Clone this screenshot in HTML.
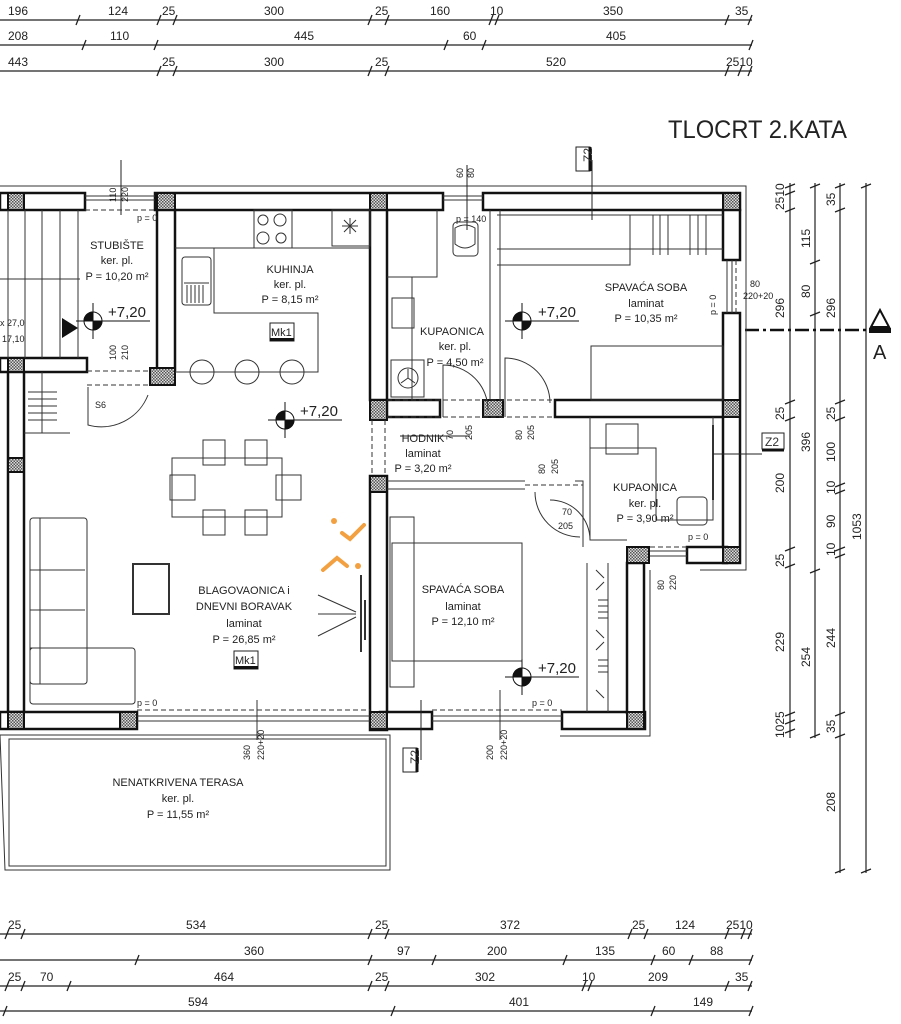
<!DOCTYPE html>
<html><head><meta charset="utf-8"><style>
html,body{margin:0;padding:0;background:#fff}
svg{display:block}
text{font-family:"Liberation Sans",sans-serif;fill:#222}
.d{font-size:12px;fill:#333}
.r{font-size:11px;text-anchor:middle}
</style></head><body>
<svg width="901" height="1024" viewBox="0 0 901 1024" xmlns="http://www.w3.org/2000/svg">
<defs>
<pattern id="h" width="3" height="3" patternUnits="userSpaceOnUse"><rect width="3" height="3" fill="#ddd"/><rect width="1.5" height="1.5" fill="#555"/><rect x="1.5" y="1.5" width="1.5" height="1.5" fill="#555"/></pattern>
</defs>
<g stroke="#222" stroke-width="1.2" fill="none">
<line x1="0" y1="20" x2="752" y2="20"/><line x1="0" y1="45" x2="752" y2="45"/><line x1="0" y1="71" x2="752" y2="71"/>
<line x1="0" y1="934" x2="752" y2="934"/><line x1="0" y1="960" x2="752" y2="960"/><line x1="0" y1="986" x2="752" y2="986"/><line x1="0" y1="1011" x2="752" y2="1011"/>
<line x1="790" y1="183" x2="790" y2="738"/><line x1="815" y1="183" x2="815" y2="738"/><line x1="840" y1="183" x2="840" y2="873"/><line x1="866" y1="183" x2="866" y2="873"/>
</g>
<g stroke="#222" stroke-width="1.3">
<path d="M76,25 l4,-10 M157,25 l4,-10 M173,25 l4,-10 M368,25 l4,-10 M385,25 l4,-10 M489,25 l4,-10 M495,25 l4,-10 M725,25 l4,-10 M748,25 l4,-10"/>
<path d="M82,50 l4,-10 M154,50 l4,-10 M444,50 l4,-10 M482,50 l4,-10 M749,50 l4,-10"/>
<path d="M157,76 l4,-10 M173,76 l4,-10 M368,76 l4,-10 M385,76 l4,-10 M725,76 l4,-10 M738,76 l4,-10 M748,76 l4,-10"/>
<path d="M5,939 l4,-10 M21,939 l4,-10 M368,939 l4,-10 M385,939 l4,-10 M628,939 l4,-10 M644,939 l4,-10 M725,939 l4,-10 M741,939 l4,-10 M748,939 l4,-10"/>
<path d="M135,965 l4,-10 M368,965 l4,-10 M432,965 l4,-10 M563,965 l4,-10 M651,965 l4,-10 M689,965 l4,-10 M749,965 l4,-10"/>
<path d="M5,991 l4,-10 M21,991 l4,-10 M67,991 l4,-10 M368,991 l4,-10 M385,991 l4,-10 M582,991 l4,-10 M588,991 l4,-10 M725,991 l4,-10 M748,991 l4,-10"/>
<path d="M3,1016 l4,-10 M391,1016 l4,-10 M651,1016 l4,-10 M749,1016 l4,-10"/>
<path d="M785,188 l10,-4 M785,195 l10,-4 M785,212 l10,-4 M785,404 l10,-4 M785,421 l10,-4 M785,551 l10,-4 M785,568 l10,-4 M785,716 l10,-4 M785,724 l10,-4 M785,733 l10,-4"/>
<path d="M810,188 l10,-4 M810,264 l10,-4 M810,316 l10,-4 M810,573 l10,-4 M810,738 l10,-4"/>
<path d="M835,188 l10,-4 M835,212 l10,-4 M835,404 l10,-4 M835,421 l10,-4 M835,487 l10,-4 M835,494 l10,-4 M835,551 l10,-4 M835,558 l10,-4 M835,716 l10,-4 M835,738 l10,-4 M835,873 l10,-4"/>
<path d="M861,188 l10,-4 M861,873 l10,-4"/>
</g>
<g class="d">
<text x="8" y="15">196</text><text x="108" y="15">124</text><text x="162" y="15">25</text><text x="264" y="15">300</text><text x="375" y="15">25</text><text x="430" y="15">160</text><text x="490" y="15">10</text><text x="603" y="15">350</text><text x="735" y="15">35</text>
<text x="8" y="40">208</text><text x="110" y="40">110</text><text x="294" y="40">445</text><text x="463" y="40">60</text><text x="606" y="40">405</text>
<text x="8" y="66">443</text><text x="162" y="66">25</text><text x="264" y="66">300</text><text x="375" y="66">25</text><text x="546" y="66">520</text><text x="726" y="66">2510</text>
<text x="8" y="929">25</text><text x="186" y="929">534</text><text x="375" y="929">25</text><text x="500" y="929">372</text><text x="632" y="929">25</text><text x="675" y="929">124</text><text x="726" y="929">2510</text>
<text x="244" y="955">360</text><text x="397" y="955">97</text><text x="487" y="955">200</text><text x="595" y="955">135</text><text x="662" y="955">60</text><text x="710" y="955">88</text>
<text x="8" y="981">25</text><text x="40" y="981">70</text><text x="214" y="981">464</text><text x="375" y="981">25</text><text x="475" y="981">302</text><text x="582" y="981">10</text><text x="648" y="981">209</text><text x="735" y="981">35</text>
<text x="188" y="1006">594</text><text x="509" y="1006">401</text><text x="693" y="1006">149</text>
</g>
<g class="d">
<text transform="translate(784,210) rotate(-90)">2510</text>
<text transform="translate(784,318) rotate(-90)">296</text>
<text transform="translate(784,420) rotate(-90)">25</text>
<text transform="translate(784,493) rotate(-90)">200</text>
<text transform="translate(784,567) rotate(-90)">25</text>
<text transform="translate(784,652) rotate(-90)">229</text>
<text transform="translate(784,738) rotate(-90)">1025</text>
<text transform="translate(810,248) rotate(-90)">115</text>
<text transform="translate(810,298) rotate(-90)">80</text>
<text transform="translate(810,452) rotate(-90)">396</text>
<text transform="translate(810,667) rotate(-90)">254</text>
<text transform="translate(835,206) rotate(-90)">35</text>
<text transform="translate(835,318) rotate(-90)">296</text>
<text transform="translate(835,420) rotate(-90)">25</text>
<text transform="translate(835,462) rotate(-90)">100</text>
<text transform="translate(835,494) rotate(-90)">10</text>
<text transform="translate(835,528) rotate(-90)">90</text>
<text transform="translate(835,556) rotate(-90)">10</text>
<text transform="translate(835,648) rotate(-90)">244</text>
<text transform="translate(835,733) rotate(-90)">35</text>
<text transform="translate(835,812) rotate(-90)">208</text>
<text transform="translate(861,540) rotate(-90)">1053</text>
</g>
<text x="668" y="138" style="font-size:25px" textLength="179" lengthAdjust="spacingAndGlyphs">TLOCRT 2.KATA</text>
<line x1="745" y1="330" x2="868" y2="330" stroke="#111" stroke-width="2.5" stroke-dasharray="14,4,3,4"/>
<path d="M871,327 L880,310 L889,327 Z" fill="none" stroke="#111" stroke-width="2"/>
<rect x="869" y="328" width="22" height="5" fill="#111"/>
<text x="873" y="359" style="font-size:20px">A</text>

<g fill="none" stroke="#333" stroke-width="1">
<path d="M0,186 H746 V570 H700"/>
<path d="M0,735 H390 V870 H5 Z"/><path d="M9,739 H386 V866 H9 Z"/>
<path d="M560,736 H650 V570"/>
</g>
<g fill="#fff" stroke="#111" stroke-width="2.5">
<rect x="0" y="193" width="85" height="17"/>
<rect x="155" y="193" width="288" height="17"/>
<rect x="483" y="193" width="257" height="17"/>
<rect x="723" y="210" width="17" height="50"/>
<rect x="723" y="313" width="17" height="250"/>
<rect x="157" y="210" width="18" height="160"/>
<rect x="370" y="210" width="17" height="190"/>
<rect x="0" y="358" width="87" height="14"/>
<rect x="8" y="372" width="16" height="340"/>
<rect x="0" y="712" width="137" height="17"/>
<rect x="370" y="476" width="17" height="254"/>
<rect x="380" y="712" width="52" height="17"/>
<rect x="562" y="712" width="83" height="17"/>
<rect x="627" y="563" width="17" height="150"/>
<rect x="687" y="547" width="40" height="16"/>
<rect x="555" y="400" width="168" height="17"/>
<rect x="387" y="400" width="53" height="17"/>
</g>
<g fill="url(#h)" stroke="#111" stroke-width="2">
<rect x="8" y="193" width="16" height="17"/><rect x="157" y="193" width="18" height="17"/><rect x="370" y="193" width="17" height="17"/><rect x="723" y="193" width="17" height="17"/>
<rect x="8" y="358" width="16" height="14"/><rect x="150" y="368" width="25" height="17"/><rect x="370" y="400" width="17" height="20"/><rect x="483" y="400" width="20" height="17"/><rect x="723" y="400" width="17" height="17"/>
<rect x="8" y="458" width="16" height="14"/><rect x="370" y="476" width="17" height="16"/><rect x="627" y="547" width="22" height="16"/><rect x="723" y="547" width="17" height="16"/>
<rect x="8" y="712" width="16" height="17"/><rect x="120" y="712" width="17" height="17"/><rect x="370" y="712" width="17" height="17"/><rect x="627" y="712" width="17" height="17"/>
</g>
<g fill="none" stroke="#333" stroke-width="1">
<path d="M85,196 H155 M85,200 H155"/><path d="M443,196 H483 M443,200 H483"/>
<path d="M727,260 V313 M732,260 V313"/>
<path d="M137,716 H370 M137,721 H370"/><path d="M432,716 H562 M432,721 H562"/>
<path d="M650,551 H687 M650,556 H687"/>
<path d="M490,210 V400 M500,210 V400"/>
<path d="M387,481 H525 M387,489 H525"/>
<path d="M575,481 H583 V547 M590,417 V540 H627"/>
<path d="M8,210 V358 M25,210 V358 M42,210 V358 M60,210 V358 M78,210 V358 M0,279 H80"/>
<path d="M28,392 H57 M28,399 H57 M28,406 H57 M28,413 H57 M28,420 H57 M24,433 H70 M42,372 V433"/>
<path d="M85,210 H155 M87,371 H150 M87,385 H150 M387,417 H555 M387,400 H555 M525,485 H583 M137,710 H370 M432,710 H562 M650,547 H687 M736,260 V313 M372,420 V476 M385,420 V476" stroke-dasharray="5,3"/>
<path d="M175,248 H370 M214,248 V313 H318 V372 H175"/>
<rect x="254" y="210" width="38" height="38"/><rect x="332" y="210" width="38" height="36"/>
<path d="M344,220 l12,12 M356,220 l-12,12 M350,218 v16 M342,226 h16"/>
<circle cx="263" cy="220" r="5"/><circle cx="280" cy="220" r="6"/><circle cx="263" cy="238" r="6"/><circle cx="281" cy="238" r="5"/>
<rect x="182" y="257" width="29" height="48" rx="3"/><path d="M184,283 H209 M187,285 v18 M191,285 v18 M195,285 v18 M199,285 v18 M203,285 v18"/>
<circle cx="202" cy="372" r="12"/><circle cx="247" cy="372" r="12"/><circle cx="292" cy="372" r="12"/>
<path d="M387,277 H437 V210 M412,277 V400"/><rect x="392" y="298" width="22" height="30"/><rect x="391" y="360" width="33" height="37"/>
<circle cx="408" cy="378" r="10"/><path d="M408,378 V369 M408,378 l-7,5 M408,378 l7,5"/>
<rect x="453" y="222" width="25" height="34" rx="4"/><path d="M455,228 q10,-6 20,0 v16 q-10,8 -20,0 Z"/>
<path d="M443,417 V365 a45,45 0 0,1 45,45"/><path d="M505,417 V358 a45,45 0 0,1 45,45"/>
<path d="M88,387 V425 a50,50 0 0,0 60,-30"/>
<path d="M535,492 a45,45 0 0,0 45,45"/><path d="M590,540 a40,40 0 0,0 -40,-40" />
<path d="M497,215 H630 V265 H497 M497,249 H630" /><path d="M630,215 H723 M630,249 H723"/>
<path d="M653,215 v40 M660,215 v40 M668,215 v40 M690,215 v40 M698,215 v40 M706,215 v40"/>
<rect x="591" y="346" width="132" height="54"/>
<rect x="606" y="424" width="32" height="30"/><path d="M590,448 H656 V520 H713 V417"/><path d="M713,425 V500" stroke-width="2"/>
<rect x="677" y="497" width="30" height="28" rx="4"/>
<rect x="390" y="517" width="24" height="170"/><rect x="392" y="543" width="130" height="118"/>
<path d="M587,563 V712 M608,563 V712"/>
<path d="M596,570 l8,8 M596,590 l8,-8 M598,600 H608 M598,606 H608 M598,612 H608 M598,618 H608 M596,630 l8,8 M596,650 l8,-8 M598,660 H608 M598,666 H608 M598,672 H608 M596,690 l8,8"/>
<rect x="172" y="458" width="110" height="59"/>
<path d="M203,440 h22 v25 h-22 Z M245,440 h22 v25 h-22 Z M203,510 h22 v25 h-22 Z M245,510 h22 v25 h-22 Z M170,475 v25 h25 v-25 Z M276,475 v25 h25 v-25 Z"/>
<rect x="30" y="518" width="57" height="166" rx="3"/><path d="M30,570 H85 M30,610 H85 M30,648 H85 M40,518 V684"/><rect x="30" y="648" width="105" height="56" rx="3"/>
<rect x="133" y="564" width="36" height="50" stroke-width="2"/>
<path d="M318,595 L356,612 M318,614 H356 M318,636 L356,617"/><path d="M361,575 V652 M365,600 V640" stroke-width="2"/>
<path d="M257,700 V740 M500,690 V740"/>
</g>
<g fill="#fff" stroke="#222" stroke-width="1">
<rect x="576" y="147" width="14" height="24"/><rect x="762" y="433" width="22" height="16"/><rect x="403" y="748" width="14" height="24"/>
</g>
<g stroke="#111" stroke-width="3"><line x1="590" y1="147" x2="590" y2="171"/><line x1="762" y1="450" x2="784" y2="450"/><line x1="417" y1="748" x2="417" y2="772"/></g>
<g stroke="#222" stroke-width="1"><line x1="592" y1="160" x2="592" y2="220"/><line x1="713" y1="454" x2="762" y2="454"/><line x1="421" y1="700" x2="421" y2="760"/><line x1="121" y1="160" x2="121" y2="215"/><line x1="467" y1="165" x2="467" y2="230"/><line x1="400" y1="436" x2="470" y2="436"/></g>
<text x="580" y="168" class="d" transform="rotate(-90 583 159)">Z2</text>
<text x="765" y="446" class="d">Z2</text>
<text x="406" y="769" class="d" transform="rotate(-90 410 760)">Z2</text>
<g><rect x="270" y="323" width="24" height="18" fill="#fff" stroke="#222"/><rect x="270" y="338" width="24" height="3" fill="#111"/><text x="271" y="336" style="font-size:11px">Mk1</text>
<rect x="234" y="651" width="24" height="18" fill="#fff" stroke="#222"/><rect x="234" y="666" width="24" height="3" fill="#111"/><text x="235" y="664" style="font-size:11px">Mk1</text></g>
<g stroke="#111" stroke-width="1">
<g transform="translate(93,321)"><circle r="9" fill="#fff"/><path d="M0,0 V-9 A9,9 0 0,0 -9,0 Z M0,0 V9 A9,9 0 0,0 9,0 Z" fill="#111"/><path d="M-17,0 H57 M0,-18 V18"/></g>
<g transform="translate(285,420)"><circle r="9" fill="#fff"/><path d="M0,0 V-9 A9,9 0 0,0 -9,0 Z M0,0 V9 A9,9 0 0,0 9,0 Z" fill="#111"/><path d="M-17,0 H57 M0,-18 V18"/></g>
<g transform="translate(522,321)"><circle r="9" fill="#fff"/><path d="M0,0 V-9 A9,9 0 0,0 -9,0 Z M0,0 V9 A9,9 0 0,0 9,0 Z" fill="#111"/><path d="M-17,0 H57 M0,-18 V18"/></g>
<g transform="translate(522,677)"><circle r="9" fill="#fff"/><path d="M0,0 V-9 A9,9 0 0,0 -9,0 Z M0,0 V9 A9,9 0 0,0 9,0 Z" fill="#111"/><path d="M-17,0 H57 M0,-18 V18"/></g>
</g>
<path d="M62,318 L78,328 L62,338 Z" fill="#111"/>
<g style="font-size:15px"><text x="108" y="317">+7,20</text><text x="300" y="416">+7,20</text><text x="538" y="317">+7,20</text><text x="538" y="673">+7,20</text></g>
<g class="r">
<text x="117" y="249">STUBIŠTE</text><text x="117" y="264">ker. pl.</text><text x="117" y="280">P = 10,20 m²</text>
<text x="290" y="273">KUHINJA</text><text x="290" y="288">ker. pl.</text><text x="290" y="303">P = 8,15 m²</text>
<text x="452" y="335">KUPAONICA</text><text x="455" y="350">ker. pl.</text><text x="455" y="366">P = 4,50 m²</text>
<text x="646" y="291">SPAVAĆA SOBA</text><text x="646" y="307">laminat</text><text x="646" y="322">P = 10,35 m²</text>
<text x="423" y="442">HODNIK</text><text x="423" y="457">laminat</text><text x="423" y="472">P = 3,20 m²</text>
<text x="645" y="491">KUPAONICA</text><text x="645" y="507">ker. pl.</text><text x="645" y="522">P = 3,90 m²</text>
<text x="463" y="593">SPAVAĆA SOBA</text><text x="463" y="610">laminat</text><text x="463" y="625">P = 12,10 m²</text>
<text x="244" y="594">BLAGOVAONICA i</text><text x="244" y="610">DNEVNI BORAVAK</text><text x="244" y="627">laminat</text><text x="244" y="643">P = 26,85 m²</text>
<text x="178" y="786">NENATKRIVENA TERASA</text><text x="178" y="802">ker. pl.</text><text x="178" y="818">P = 11,55 m²</text>
</g>
<g style="font-size:9px">
<text x="137" y="221">p = 0</text><text x="137" y="706">p = 0</text><text x="532" y="706">p = 0</text><text x="688" y="540">p = 0</text><text x="456" y="222">p = 140</text>
<text x="95" y="408">S6</text>
<text x="750" y="287">80</text><text x="743" y="299">220+20</text>
<text transform="translate(716,315) rotate(-90)">p = 0</text>
<text transform="translate(116,202) rotate(-90)">110</text><text transform="translate(128,202) rotate(-90)">220</text>
<text transform="translate(116,360) rotate(-90)">100</text><text transform="translate(128,360) rotate(-90)">210</text>
<text transform="translate(463,178) rotate(-90)">60</text><text transform="translate(474,178) rotate(-90)">80</text>
<text transform="translate(453,440) rotate(-90)">70</text><text transform="translate(472,440) rotate(-90)">205</text>
<text transform="translate(522,440) rotate(-90)">80</text><text transform="translate(534,440) rotate(-90)">205</text>
<text transform="translate(545,474) rotate(-90)">80</text><text transform="translate(558,474) rotate(-90)">205</text>
<text x="562" y="515">70</text><text x="558" y="529">205</text>
<text transform="translate(664,590) rotate(-90)">80</text><text transform="translate(676,590) rotate(-90)">220</text>
<text transform="translate(250,760) rotate(-90)">360</text><text transform="translate(264,760) rotate(-90)">220+20</text>
<text transform="translate(493,760) rotate(-90)">200</text><text transform="translate(507,760) rotate(-90)">220+20</text>
<text x="0" y="326">x 27,0</text><text x="2" y="342">17,10</text>
</g>
<g stroke="#f2a040" stroke-width="4" fill="none" stroke-linecap="round"><path d="M342,533 l8,6 l14,-14"/><path d="M323,570 l14,-12 l10,8"/></g>
<circle cx="334" cy="521" r="3" fill="#f2a040"/><circle cx="358" cy="566" r="3" fill="#f2a040"/>
</svg>
</body></html>
